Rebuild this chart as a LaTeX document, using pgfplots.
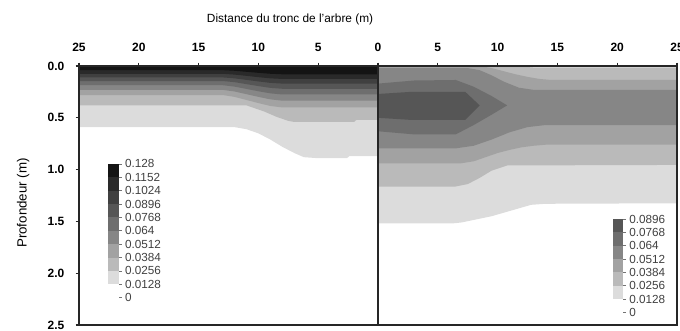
\documentclass[border=0pt]{standalone}
\usepackage{pgfplots}
\pgfplotsset{compat=1.18}
\usepackage{fontspec}
\setmainfont{Liberation Sans}
\definecolor{b1}{HTML}{DCDCDC}
\definecolor{b2}{HTML}{BABABA}
\definecolor{b3}{HTML}{A2A2A2}
\definecolor{b4}{HTML}{868686}
\definecolor{b5}{HTML}{6E6E6E}
\definecolor{b6}{HTML}{565656}
\definecolor{b7}{HTML}{404040}
\definecolor{b8}{HTML}{2A2A2A}
\definecolor{b9}{HTML}{141414}
\begin{document}
\begin{tikzpicture}
\pgfplotsset{
  panel/.style={scale only axis, width=224.25pt, height=194.25pt,
    anchor=south west,
    xmin=0, xmax=25, ymin=0, ymax=2.5, y dir=reverse,
    axis on top, tick align=outside, major tick length=2.5pt,
    xtick pos=right, xticklabel pos=right,
    axis line style={line width=0.9pt, black!85},
    tick style={line width=0.8pt, black!85},
    ticklabel style={font=\fontsize{9}{10}\selectfont\bfseries},
    xticklabel style={yshift=4.5pt},
    yticklabel style={xshift=-5pt},
    /pgf/number format/assume math mode=true},
  cbar/.style={scale only axis, anchor=south west, xmin=0, xmax=1, ymin=0,
    axis x line=none, axis y line*=right, axis line style={draw=none},
    scaled y ticks=false,
    tick align=outside, major tick length=2pt,
    tick style={black!55, line width=0.5pt},
    yticklabel style={font=\fontsize{8.8}{10}\selectfont, text=black!75, xshift=-1pt},
    /pgf/number format/assume math mode=true}
}
% ---------------- left panel ----------------
\begin{axis}[panel, at={(59.25pt,4.5pt)}, x dir=reverse,
  xtick={0,5,10,15,20,25},
  ytick={0,0.5,1,1.5,2,2.5}, yticklabels={0.0,0.5,1.0,1.5,2.0,2.5},
  ytick pos=left,
  title={Distance du tronc de l'arbre (m)},
  title style={font=\fontsize{8.9}{10}\selectfont, at={(axis description cs:0.706,1.147)}, anchor=center},
  ylabel={Profondeur (m)},
  ylabel style={font=\fontsize{10}{12}\selectfont, at={(axis description cs:-0.187,0.471)}, anchor=center}]
\addplot[fill=b1, draw=none] coordinates {(0,0) (0,0.87) (2.4,0.87) (2.6,0.89) (5,0.89) (6.2,0.88) (7,0.84) (8,0.78) (9,0.71) (10,0.65) (11,0.61) (12,0.59) (25,0.59) (25,0)} -- cycle;
\addplot[fill=b2, draw=none] coordinates {(0,0) (0,0.52) (1.8,0.52) (2,0.54) (7,0.54) (7.5,0.53) (8.5,0.49) (9.5,0.44) (10.5,0.40) (11,0.38) (25,0.38) (25,0)} -- cycle;
\addplot[fill=b3, draw=none] coordinates {(0,0) (0,0.40) (8,0.40) (9,0.386) (10,0.358) (11,0.328) (12,0.298) (13,0.28) (25,0.28) (25,0)} -- cycle;
\addplot[fill=b4, draw=none] coordinates {(0,0) (0,0.335) (8,0.335) (9,0.322) (10,0.298) (11,0.272) (12,0.246) (13,0.23) (25,0.23) (25,0)} -- cycle;
\addplot[fill=b5, draw=none] coordinates {(0,0) (0,0.275) (8,0.275) (9,0.264) (10,0.244) (11,0.221) (12,0.199) (13,0.185) (25,0.185) (25,0)} -- cycle;
\addplot[fill=b6, draw=none] coordinates {(0,0) (0,0.22) (8,0.22) (9,0.211) (10,0.194) (11,0.175) (12,0.156) (13,0.145) (25,0.145) (25,0)} -- cycle;
\addplot[fill=b7, draw=none] coordinates {(0,0) (0,0.17) (8,0.17) (9,0.163) (10,0.149) (11,0.134) (12,0.119) (13,0.11) (25,0.11) (25,0)} -- cycle;
\addplot[fill=b8, draw=none] coordinates {(0,0) (0,0.125) (8,0.125) (9,0.119) (10,0.108) (11,0.095) (12,0.083) (13,0.075) (25,0.075) (25,0)} -- cycle;
\addplot[fill=b9, draw=none] coordinates {(0,0) (0,0.08) (8,0.08) (9,0.075) (10,0.066) (11,0.056) (12,0.046) (13,0.04) (25,0.04) (25,0)} -- cycle;
\end{axis}
% ---------------- right panel ----------------
\begin{axis}[panel, at={(283.5pt,4.5pt)},
  xtick={5,10,15,20,25}, ytick=\empty]
\addplot[fill=b1, draw=none] coordinates {(0,1.52) (6.2,1.52) (7,1.51) (8.25,1.48) (9.5,1.45) (11,1.40) (12.8,1.34) (14,1.33) (25,1.325) (25,0) (0,0)} -- cycle;
\addplot[fill=b2, draw=none] coordinates {(0,1.165) (6.4,1.165) (7.5,1.14) (8.5,1.08) (9.5,1.01) (10.8,0.96) (25,0.955) (25,0.015) (13,0.015) (11.5,0) (0,0)} -- cycle;
\addplot[fill=b3, draw=none] coordinates {(0,0.94) (6.9,0.94) (8,0.92) (9,0.88) (10,0.84) (11,0.81) (12,0.785) (13,0.77) (14,0.76) (25,0.76) (25,0.135) (14.5,0.135) (13.5,0.125) (12.5,0.105) (11.5,0.08) (10.5,0.05) (9.5,0.02) (8.5,0) (0,0)} -- cycle;
\addplot[fill=b4, draw=none] coordinates {(0,0.795) (6.5,0.795) (8,0.77) (9.5,0.71) (11,0.64) (12.5,0.59) (14,0.57) (25,0.57) (25,0.23) (13,0.23) (11.8,0.21) (10.5,0.15) (9.5,0.09) (8.5,0.04) (7.5,0.02) (0,0.02)} -- cycle;
\addplot[fill=b5, draw=none] coordinates {(0,0.63) (3,0.66) (6.5,0.66) (8,0.57) (9.5,0.47) (10.8,0.38) (9.5,0.29) (8,0.2) (6.5,0.135) (3,0.14) (0,0.17)} -- cycle;
\addplot[fill=b6, draw=none] coordinates {(0,0.50) (2.7,0.52) (7.3,0.52) (8.5,0.38) (7.3,0.25) (2.7,0.25) (0,0.27)} -- cycle;
\end{axis}
% ---------------- colour bars ----------------
\begin{axis}[cbar, at={(81pt,24.98pt)}, width=8.25pt, height=100.3pt, ymax=0.128,
  ytick={0,0.0128,0.0256,0.0384,0.0512,0.064,0.0768,0.0896,0.1024,0.1152,0.128},
  yticklabels={0,0.0128,0.0256,0.0384,0.0512,0.064,0.0768,0.0896,0.1024,0.1152,0.128}]
\addplot[fill=b1, draw=none] coordinates {(0,0.0128) (1,0.0128) (1,0.0256) (0,0.0256)} -- cycle;
\addplot[fill=b2, draw=none] coordinates {(0,0.0256) (1,0.0256) (1,0.0384) (0,0.0384)} -- cycle;
\addplot[fill=b3, draw=none] coordinates {(0,0.0384) (1,0.0384) (1,0.0512) (0,0.0512)} -- cycle;
\addplot[fill=b4, draw=none] coordinates {(0,0.0512) (1,0.0512) (1,0.064) (0,0.064)} -- cycle;
\addplot[fill=b5, draw=none] coordinates {(0,0.064) (1,0.064) (1,0.0768) (0,0.0768)} -- cycle;
\addplot[fill=b6, draw=none] coordinates {(0,0.0768) (1,0.0768) (1,0.0896) (0,0.0896)} -- cycle;
\addplot[fill=b7, draw=none] coordinates {(0,0.0896) (1,0.0896) (1,0.1024) (0,0.1024)} -- cycle;
\addplot[fill=b8, draw=none] coordinates {(0,0.1024) (1,0.1024) (1,0.1152) (0,0.1152)} -- cycle;
\addplot[fill=b9, draw=none] coordinates {(0,0.1152) (1,0.1152) (1,0.128) (0,0.128)} -- cycle;
\end{axis}
\begin{axis}[cbar, at={(459.5pt,14pt)}, width=8pt, height=70pt, ymax=0.0896,
  ytick={0,0.0128,0.0256,0.0384,0.0512,0.064,0.0768,0.0896},
  yticklabels={0,0.0128,0.0256,0.0384,0.0512,0.064,0.0768,0.0896}]
\addplot[fill=b1, draw=none] coordinates {(0,0.0128) (1,0.0128) (1,0.0256) (0,0.0256)} -- cycle;
\addplot[fill=b2, draw=none] coordinates {(0,0.0256) (1,0.0256) (1,0.0384) (0,0.0384)} -- cycle;
\addplot[fill=b3, draw=none] coordinates {(0,0.0384) (1,0.0384) (1,0.0512) (0,0.0512)} -- cycle;
\addplot[fill=b4, draw=none] coordinates {(0,0.0512) (1,0.0512) (1,0.064) (0,0.064)} -- cycle;
\addplot[fill=b5, draw=none] coordinates {(0,0.064) (1,0.064) (1,0.0768) (0,0.0768)} -- cycle;
\addplot[fill=b6, draw=none] coordinates {(0,0.0768) (1,0.0768) (1,0.0896) (0,0.0896)} -- cycle;
\end{axis}
\pgfresetboundingbox
\path[use as bounding box] (0pt,0pt) rectangle (510pt,248.25pt);
\end{tikzpicture}
\end{document}
